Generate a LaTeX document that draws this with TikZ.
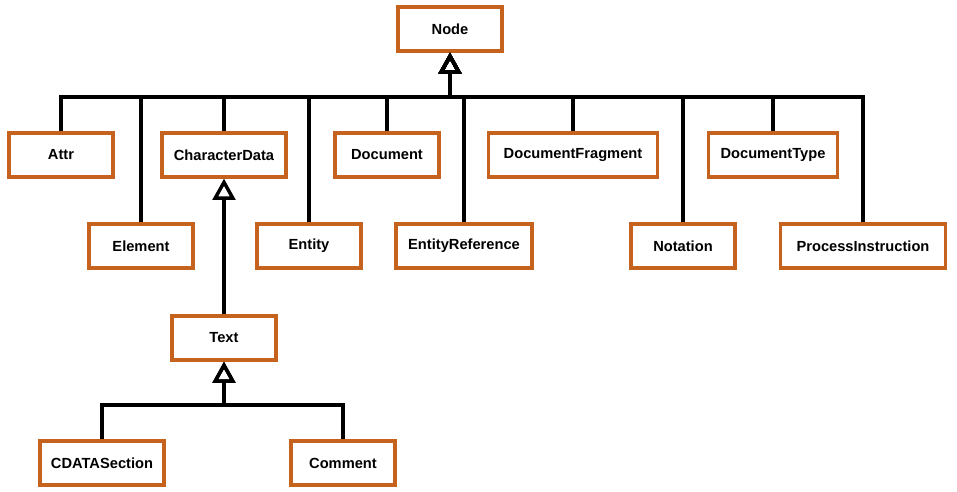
\documentclass[tikz,border=0pt]{standalone}
\usepackage{fontspec}
\setmainfont{Liberation Sans}
\usepackage{xcolor}
\usetikzlibrary{arrows.meta}
\definecolor{boxline}{RGB}{196,98,30}

\begin{document}
\begin{tikzpicture}[x=0.75pt, y=-0.75pt,
    cls/.style={draw=boxline, line width=2.4pt, fill=white, minimum height=33pt,
      inner sep=0pt, font=\fontsize{11}{13}\selectfont\bfseries},
    inh/.style={line width=3.6pt, -{Triangle[open, width=17pt, length=16pt, line width=2.6pt]}}
  ]
\useasboundingbox[fill=white] (0,0) rectangle (957,492);

% Classes
\node[cls, minimum width=78pt] (node) at (450,29) {Node};
\node[cls, minimum width=78pt] (attr) at (61,155) {Attr};
\node[cls, minimum width=93pt] (chardata) at (224,155) {CharacterData};
\node[cls, minimum width=78pt] (doc) at (387,155) {Document};
\node[cls, minimum width=127pt] (docfrag) at (573,155) {DocumentFragment};
\node[cls, minimum width=97pt] (doctype) at (773,155) {DocumentType};
\node[cls, minimum width=78pt] (element) at (141,246) {Element};
\node[cls, minimum width=78pt] (entity) at (309,246) {Entity};
\node[cls, minimum width=102pt] (entityref) at (464,246) {EntityReference};
\node[cls, minimum width=78pt] (notation) at (683,246) {Notation};
\node[cls, minimum width=124pt] (procinstr) at (863,246) {ProcessInstruction};
\node[cls, minimum width=78pt] (text) at (224,338) {Text};
\node[cls, minimum width=93pt] (cdata) at (102,463) {CDATASection};
\node[cls, minimum width=78pt] (comment) at (343,463) {Comment};

% Buses
\coordinate (bus) at (450,97);
\coordinate (tbus) at (224,405);

% Inheritance
\foreach \c in {attr,element,chardata,entity,doc,entityref,docfrag,notation,doctype,procinstr}
  \draw[inh] (\c.north) |- (bus) -- (node.south);
\draw[inh] (text.north) -- (chardata.south);
\foreach \c in {cdata,comment}
  \draw[inh] (\c.north) |- (tbus) -- (text.south);

\end{tikzpicture}
\end{document}
